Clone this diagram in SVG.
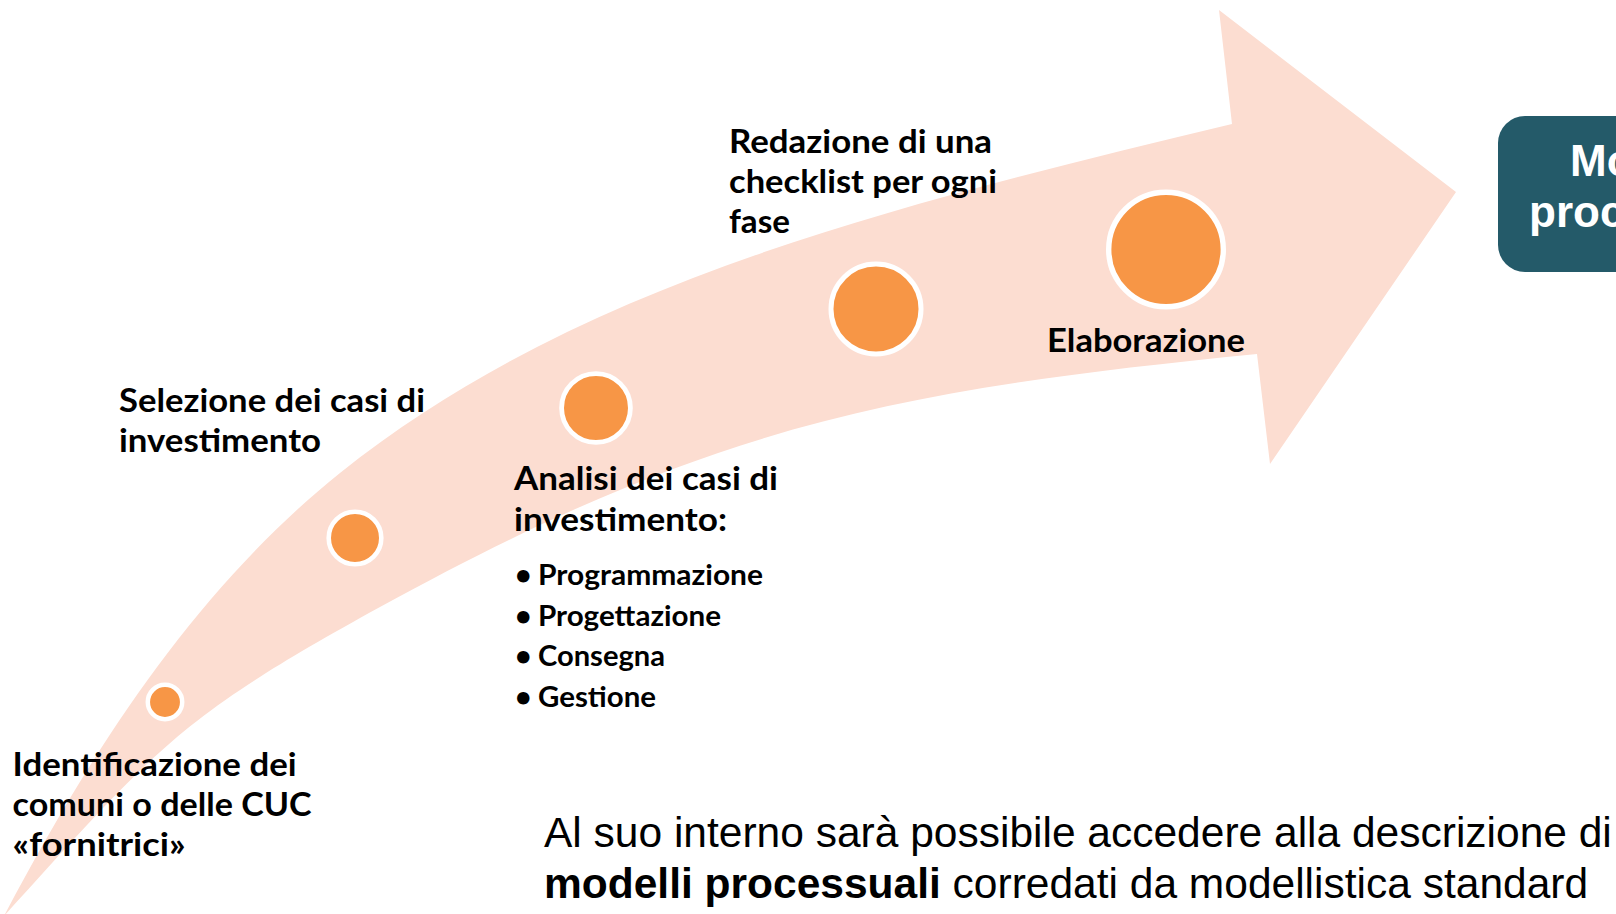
<svg xmlns="http://www.w3.org/2000/svg" width="1616" height="914" viewBox="0 0 1616 914">
<style>
.lbl{font-family:Lato,"Open Sans","Liberation Sans",sans-serif;font-weight:700;font-size:33px;fill:#000}
.bul{font-family:Lato,"Open Sans","Liberation Sans",sans-serif;font-weight:700;font-size:28.5px;fill:#000}
.dot{fill:#F79646;stroke:#fff}
.body{font-family:"Liberation Sans",Arial,sans-serif;font-size:42.5px;fill:#000}
.box{fill:#245A69}
.boxt{font-family:"Liberation Sans",Arial,sans-serif;font-weight:700;font-size:44px;fill:#fff}
</style>
<rect width="1616" height="914" fill="#fff"/>
<g id="arrow">
<path fill="#FCDDD1" d="M4,916 C90.2,752.3 195.5,588.6 340,473 C574.3,285.5 882,207.9 1232,124 L1219,10 L1456,192 L1270,464 L1257,354 C898.8,389.8 712.9,423.8 380,607 C178.5,717.9 158.8,745.8 4,916 Z"/>
</g>
<g id="step1"><circle class="dot" cx="165" cy="702" r="17.2" stroke-width="4.5"/>
<text class="lbl" x="12.6" y="776" textLength="284" lengthAdjust="spacingAndGlyphs">Identificazione dei</text>
<text class="lbl" x="12.6" y="816" textLength="299" lengthAdjust="spacingAndGlyphs">comuni o delle CUC</text>
<text class="lbl" x="12.6" y="856" textLength="173" lengthAdjust="spacingAndGlyphs">«fornitrici»</text></g>
<g id="step2"><circle class="dot" cx="355" cy="538" r="26.3" stroke-width="4.6"/>
<text class="lbl" x="119" y="412" textLength="306" lengthAdjust="spacingAndGlyphs">Selezione dei casi di</text>
<text class="lbl" x="119" y="452" textLength="202" lengthAdjust="spacingAndGlyphs">investimento</text></g>
<g id="step3"><circle class="dot" cx="596" cy="408" r="34.4" stroke-width="4.8"/>
<text class="lbl" x="514" y="490" textLength="264" lengthAdjust="spacingAndGlyphs">Analisi dei casi di</text>
<text class="lbl" x="514" y="531" textLength="213" lengthAdjust="spacingAndGlyphs">investimento:</text>
<text class="bul" x="515" y="585">•</text><text class="bul" x="538" y="585" textLength="225" lengthAdjust="spacingAndGlyphs">Programmazione</text>
<text class="bul" x="515" y="626">•</text><text class="bul" x="538" y="626" textLength="183" lengthAdjust="spacingAndGlyphs">Progettazione</text>
<text class="bul" x="515" y="666">•</text><text class="bul" x="538" y="666" textLength="127" lengthAdjust="spacingAndGlyphs">Consegna</text>
<text class="bul" x="515" y="707">•</text><text class="bul" x="538" y="707" textLength="118" lengthAdjust="spacingAndGlyphs">Gestione</text></g>
<g id="step4"><circle class="dot" cx="876" cy="309" r="45" stroke-width="5"/>
<text class="lbl" x="729" y="153" textLength="263" lengthAdjust="spacingAndGlyphs">Redazione di una</text>
<text class="lbl" x="729" y="193" textLength="268" lengthAdjust="spacingAndGlyphs">checklist per ogni</text>
<text class="lbl" x="729" y="233" textLength="61" lengthAdjust="spacingAndGlyphs">fase</text></g>
<g id="step5"><circle class="dot" cx="1166" cy="249.5" r="57.3" stroke-width="5.4"/>
<text class="lbl" x="1047" y="352" textLength="198" lengthAdjust="spacingAndGlyphs">Elaborazione</text></g>
<g id="result"><rect class="box" x="1498" y="116" width="300" height="156" rx="27"/>
<text class="boxt" x="1570" y="176">Modelli</text>
<text class="boxt" x="1529" y="227">processuali</text></g>
<g id="note">
<text class="body" x="544" y="847">Al suo interno sarà possibile accedere alla descrizione di</text>
<text class="body" x="544" y="898"><tspan font-weight="700">modelli processuali</tspan> corredati da modellistica standard</text>
</g>
<g id="connectors"/>
</svg>
